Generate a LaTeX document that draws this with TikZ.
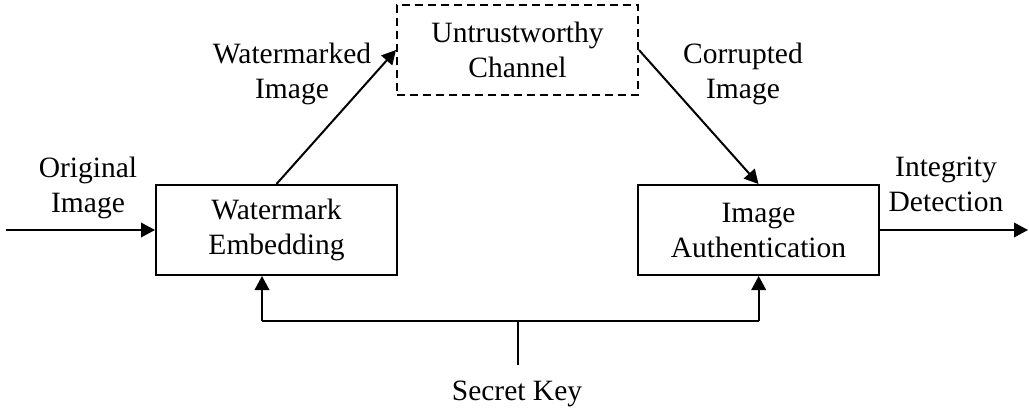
\documentclass[tikz,border=0pt]{standalone}
\usepackage{fontspec}
\setmainfont{Liberation Serif}
\usetikzlibrary{arrows.meta}
\begin{document}
\begin{tikzpicture}[x=1pt,y=-1pt,
  every node/.style={font=\fontsize{29.5}{35}\selectfont, inner sep=0pt},
  block/.style={draw, line width=2pt, minimum width=241pt, minimum height=90pt, align=center},
  channelbox/.style={block, dash pattern=on 8pt off 5pt},
  lbl/.style={align=center},
  link/.style={line width=2pt, -{Triangle[length=14pt,width=14.5pt]}},
  wire/.style={line width=2pt}]
  \useasboundingbox (0,0) rectangle (1029,409);

  % processing blocks
  \node[block] (embed) at (276.5,230) {Watermark\\Embedding};
  \node[channelbox] (chan) at (517.5,50) {Untrustworthy\\Channel};
  \node[block] (auth) at (758.5,230) {Image\\Authentication};

  % free ends and junctions
  \coordinate (in) at (6,230);
  \coordinate (out) at (1028,230);
  \coordinate (keyend) at (517.5,365);
  \coordinate (keyjoin) at (517.5,320.7);
  \coordinate (keyL) at (262,320.7);
  \coordinate (keyR) at (758.7,320.7);

  % signal flow
  \draw[link] (in) -- (embed.west);
  \draw[link] (embed.north) -- (chan.west);
  \draw[link] (chan.east) -- (auth.north);
  \draw[link] (auth.east) -- (out);

  % secret key distribution
  \draw[wire] (keyend) -- (keyjoin);
  \draw[wire] (keyL) -- (keyR);
  \draw[link] (keyL) -- (keyL |- embed.south);
  \draw[link] (keyR) -- (keyR |- auth.south);

  % labels
  \node[lbl] (lorig) at (88,187.7) {Original\\Image};
  \node[lbl] (lwm) at (292,73.7) {Watermarked\\Image};
  \node[lbl] (lcor) at (743,73.7) {Corrupted\\Image};
  \node[lbl] (lint) at (946,184.5) {Integrity\\Detection};
  \node[lbl] (lkey) at (517,393.5) {Secret Key};
\end{tikzpicture}
\end{document}
